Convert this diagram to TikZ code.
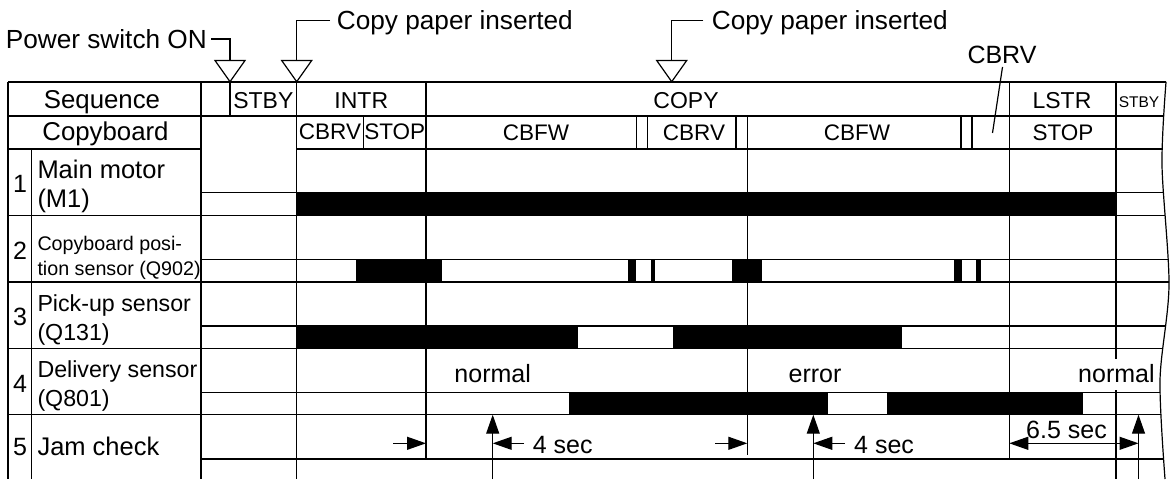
\documentclass[tikz,border=0pt]{standalone}
\usepackage{fontspec}
\setmainfont{Liberation Sans}
\usetikzlibrary{arrows.meta}
\begin{document}
\begin{tikzpicture}[x=1pt,y=-1pt,
  ln/.style={line width=1.2pt},
  barfill/.style={fill=black},
  txt/.style={inner sep=0pt, font=\fontsize{25}{30}\selectfont},
  bigt/.style={inner sep=0pt, font=\fontsize{26.2}{31}\selectfont},
  hdt/.style={inner sep=0pt, font=\fontsize{25.8}{31}\selectfont},
  rowt/.style={inner sep=0pt, font=\fontsize{25.5}{30}\selectfont},
  cbt/.style={inner sep=0pt, font=\fontsize{22.5}{27}\selectfont},
  sqt/.style={inner sep=0pt, font=\fontsize{23}{27}\selectfont},
  labt/.style={inner sep=0pt, font=\fontsize{23.2}{28}\selectfont},
  smlt/.style={inner sep=0pt, font=\fontsize{19.7}{24}\selectfont},
  tinyt/.style={inner sep=0pt, font=\fontsize{15.5}{19}\selectfont},
  dimarrow/.style={line width=1.2pt, -{Triangle[length=19pt,width=13pt]}},
  dimboth/.style={line width=1.2pt, {Triangle[length=19pt,width=13pt]}-{Triangle[length=19pt,width=13pt]}},
  opentri/.style={line width=1.2pt, fill=white},
]
\useasboundingbox (0,0) rectangle (1172,479);

% ---------- signal bars ----------
% row 1
\fill[barfill] (296.7,192.7) rectangle (1116,215.3);
% row 2
\fill[barfill] (356,259.3) rectangle (441.7,282);
\fill[barfill] (628.3,259.3) rectangle (636,282);
\fill[barfill] (650.7,259.3) rectangle (655,282);
\fill[barfill] (732.3,259.3) rectangle (762.3,282);
\fill[barfill] (953.7,259.3) rectangle (962,282);
\fill[barfill] (976,259.3) rectangle (981,282);
% row 3
\fill[barfill] (296.7,326) rectangle (578.3,348.3);
\fill[barfill] (673.3,326) rectangle (901.7,348.3);
% row 4
\fill[barfill] (569.3,392.3) rectangle (827.7,414.7);
\fill[barfill] (887.3,392.3) rectangle (1082.7,414.7);

% ---------- horizontal lines, clipped by the wavy right border ----------
\begin{scope}
\clip (0,0) -- (1166,0) -- plot[smooth] coordinates {(1166,82) (1162,165) (1169,285) (1160,380) (1165,479)} -- (0,479) -- cycle;
\draw[ln] (8,82) -- (1190,82);
\draw[ln] (8,116) -- (1190,116);
\draw[ln] (8,149) -- (201,149);
\draw[ln] (296.7,149) -- (1190,149);
\draw[ln] (201,192.7) -- (1190,192.7);
\draw[ln] (8,215.3) -- (1190,215.3);
\draw[ln] (201,259.3) -- (1190,259.3);
\draw[ln] (8,282) -- (1190,282);
\draw[ln] (201,326) -- (1190,326);
\draw[ln] (8,348.3) -- (1190,348.3);
\draw[ln] (201,392.3) -- (1190,392.3);
\draw[ln] (8,414.7) -- (1190,414.7);
\draw[ln] (201,459) -- (1190,459);
\end{scope}
\draw[ln] plot[smooth] coordinates {(1166,82) (1162,165) (1169,285) (1160,380) (1165,479)};

% ---------- vertical lines ----------
\draw[ln] (8,82) -- (8,479);
\draw[ln] (31.7,149) -- (31.7,479);
\draw[ln] (201,82) -- (201,479);
\draw[ln] (230,82) -- (230,116);
\draw[ln] (296.7,82) -- (296.7,479);
\draw[ln] (363.3,116) -- (363.3,149);
\draw[ln] (426,82) -- (426,459);
\draw[ln] (636.7,116) -- (636.7,149);
\draw[ln] (647.3,116) -- (647.3,149);
\draw[ln] (736,116) -- (736,149);
\draw[ln] (747.3,116) -- (747.3,455);
\draw[ln] (961,116) -- (961,149);
\draw[ln] (972,116) -- (972,149);
\draw[ln] (1009.3,82) -- (1009.3,459);
\draw[ln] (1116,82) -- (1116,479);

% ---------- top annotations ----------
\node[bigt, anchor=base east] (pwr) at (207,48) {Power switch ON};
\coordinate (t1) at (230,60.5);
\draw[ln] ([shift={(4,-9)}]pwr.base east) -| (t1);
\draw[opentri] (215,60.5) -- (245,60.5) -- (230,81.7) -- cycle;

\node[bigt, anchor=base west] (cpi1) at (336.7,29) {Copy paper inserted};
\coordinate (t2) at (296.7,60.5);
\draw[ln] ([shift={(-6.7,-8.5)}]cpi1.base west) -| (t2);
\draw[opentri] (281.7,60.5) -- (311.7,60.5) -- (296.7,81.7) -- cycle;

\node[bigt, anchor=base west] (cpi2) at (711.7,29) {Copy paper inserted};
\coordinate (t3) at (671.7,60.5);
\draw[ln] ([shift={(-8.4,-8.5)}]cpi2.base west) -| (t3);
\draw[opentri] (656.7,60.5) -- (686.7,60.5) -- (671.7,81.7) -- cycle;

\node[txt, anchor=base] (cbrvtop) at (1002,63) {CBRV};
\coordinate (cbrvend) at (992.5,133);
\draw[ln] ([shift={(0.5,4)}]cbrvtop.base) -- (cbrvend);

% ---------- sequence row ----------
\node[hdt, anchor=base] (seq) at (102,108.5) {Sequence};
\node[sqt, anchor=base] (stby1) at (263.3,108.5) {STBY};
\node[sqt, anchor=base] (intr) at (361.3,108.5) {INTR};
\node[sqt, anchor=base] (copy) at (686,108.5) {COPY};
\node[sqt, anchor=base] (lstr) at (1062,108.5) {LSTR};
\node[tinyt, anchor=base] (stby2) at (1139,107) {STBY};

% ---------- copyboard row ----------
\node[hdt, anchor=base] (cpb) at (105.5,140) {Copyboard};
\node[cbt, anchor=base] (cb1) at (330,139.5) {CBRV};
\node[cbt, anchor=base] (cb2) at (394.7,139.5) {STOP};
\node[cbt, anchor=base] (cb3) at (536,140) {CBFW};
\node[cbt, anchor=base] (cb4) at (694,140) {CBRV};
\node[cbt, anchor=base] (cb5) at (857,140) {CBFW};
\node[cbt, anchor=base] (cb6) at (1063,140) {STOP};

% ---------- row labels ----------
\node[txt, anchor=base] (n1) at (20,192) {1};
\node[rowt, anchor=base west] (l1a) at (37.3,178.3) {Main motor};
\node[rowt, anchor=base west] (l1b) at (37.3,207.3) {(M1)};
\node[txt, anchor=base] (n2) at (20,259.3) {2};
\node[smlt, anchor=base west] (l2a) at (37.3,250.7) {Copyboard posi-};
\node[smlt, anchor=base west] (l2b) at (37.3,275) {tion sensor (Q902)};
\node[txt, anchor=base] (n3) at (20,325.5) {3};
\node[labt, anchor=base west] (l3a) at (37.3,311) {Pick-up sensor};
\node[labt, anchor=base west] (l3b) at (37.3,340.5) {(Q131)};
\node[txt, anchor=base] (n4) at (20,392) {4};
\node[labt, anchor=base west] (l4a) at (37.3,377.3) {Delivery sensor};
\node[labt, anchor=base west] (l4b) at (37.3,406.8) {(Q801)};
\node[txt, anchor=base] (n5) at (20,455) {5};
\node[rowt, anchor=base west] (l5) at (37.3,455) {Jam check};

% ---------- row 4 texts ----------
\node[txt, anchor=base] (nrm1) at (492.7,382.7) {normal};
\node[txt, anchor=base] (err) at (815,382.7) {error};
\node[txt, anchor=base, fill=white, inner xsep=1pt, text height=24pt, text depth=7pt] (nrm2) at (1116.4,382.7) {normal};

% ---------- jam check dimensions ----------
\coordinate (a1s) at (393,443.3);
\coordinate (a1e) at (426,443.3);
\draw[dimarrow] (a1s) -- (a1e);
\coordinate (u1b) at (492.7,479);
\coordinate (u1t) at (492.7,414.7);
\draw[dimarrow] (u1b) -- (u1t);
\node[txt, anchor=base west] (sec1) at (532.7,453.3) {4 sec};
\coordinate (a2s) at (524,443.3);
\coordinate (a2e) at (492.7,443.3);
\draw[dimarrow] (a2s) -- (a2e);

\coordinate (b1s) at (715,443.3);
\coordinate (b1e) at (747.3,443.3);
\draw[dimarrow] (b1s) -- (b1e);
\coordinate (u2b) at (813.3,479);
\coordinate (u2t) at (813.3,414.7);
\draw[dimarrow] (u2b) -- (u2t);
\node[txt, anchor=base west] (sec2) at (854,453.3) {4 sec};
\coordinate (b2s) at (845,443.3);
\coordinate (b2e) at (813.3,443.3);
\draw[dimarrow] (b2s) -- (b2e);

\coordinate (c1) at (1009.3,443.3);
\coordinate (c2) at (1138.5,443.3);
\draw[dimboth] (c1) -- (c2);
\coordinate (u3b) at (1138.5,479);
\coordinate (u3t) at (1138.5,414.7);
\draw[dimarrow] (u3b) -- (u3t);
\node[txt, anchor=base] (sec3) at (1066.5,438.3) {6.5 sec};
\end{tikzpicture}
\end{document}
